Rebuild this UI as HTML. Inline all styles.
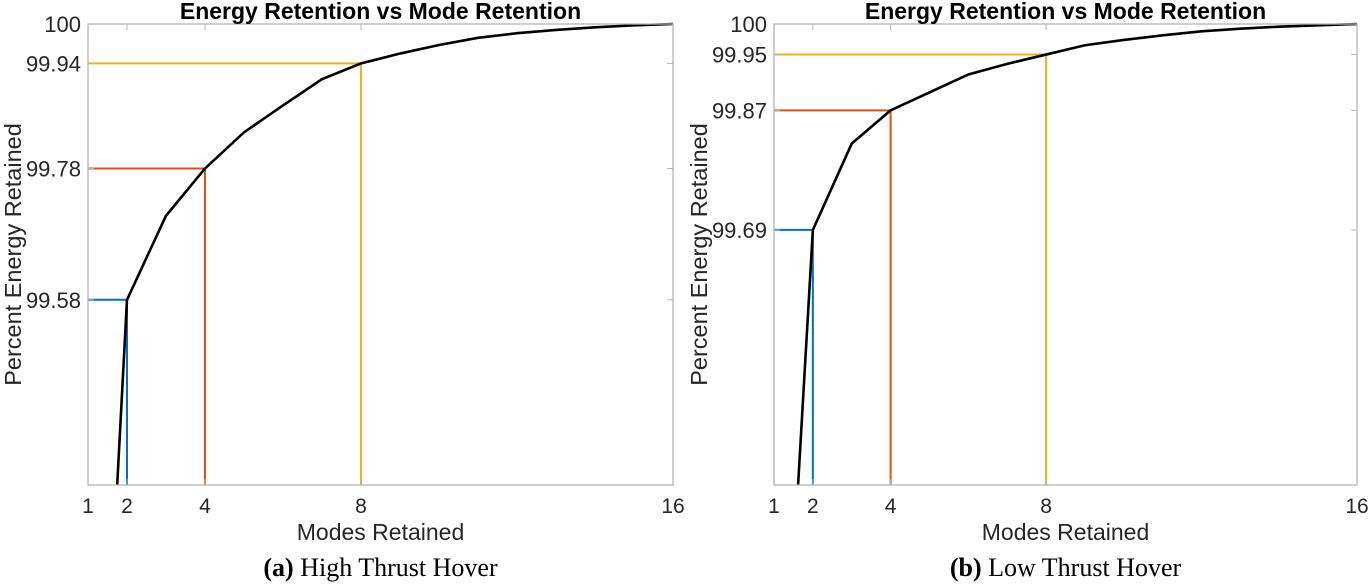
<!DOCTYPE html>
<html><head><meta charset="utf-8"><style>
html,body{margin:0;background:#fff;overflow:hidden;width:1372px;height:585px;}
svg{display:block;}
</style></head><body>
<svg id="c" width="1372" height="585" xmlns="http://www.w3.org/2000/svg"></svg>
<script>
const modes=[1,2,3,4,5,6,7,8,9,10,11,12,13,14,15,16];
const energyA=[98.46,99.58,99.708,99.78,99.835,99.876,99.916,99.94,99.955,99.968,99.979,99.986,99.991,99.995,99.998,100];
const energyB=[98.68,99.69,99.82,99.87,99.897,99.924,99.94,99.954,99.968,99.976,99.983,99.989,99.993,99.996,99.998,100];
const xTicks=[1,2,4,8,16];
const yTicksA=[99.58,99.78,99.94,100];
const yTicksB=[99.69,99.87,99.954,100];
const yTickLabelsA=["99.58","99.78","99.94","100"];
const yTickLabelsB=["99.69","99.87","99.95","100"];
const markA=[2,4,8];
const markB=[2,4,8];
const colors=["#0072BD","#D95319","#EDB120"];
const NS="http://www.w3.org/2000/svg";
const svg=document.getElementById('c');
function mk(t,a,p){const e=document.createElementNS(NS,t);for(const k in a)e.setAttribute(k,a[k]);(p||svg).appendChild(e);return e;}
function panel(id,x0,x1,y0,y1,ymin,energy,yt,ytl,marks,caption,capBold){
  const g=mk('g',{});
  
  
  const X=v=>x0+(v-1)/15*(x1-x0);
  const Y=v=>y1-(v-ymin)/(100-ymin)*(y1-y0);
  const cid='clip'+id;
  const cp=mk('clipPath',{id:cid},g);mk('rect',{x:x0,y:y0-2,width:x1-x0,height:y1-y0+2},cp);
  marks.forEach((m,i)=>{
    const v=energy[modes.indexOf(m)];
    const l=mk('polyline',{points:`${x0},${Y(v)} ${X(m)},${Y(v)} ${X(m)},${y1}`,fill:'none',stroke:colors[i],'stroke-width':2},g);
    
    
  });
  const pts=modes.map((m,i)=>X(m)+','+Y(energy[i])).join(' ');
  const line=mk('polyline',{points:pts,fill:'none',stroke:'#000','stroke-width':2.6,'clip-path':`url(#${cid})`},g);
  
  
  const box=mk('rect',{x:x0,y:y0,width:x1-x0,height:y1-y0,fill:'none',stroke:'#b4b4b4','stroke-width':1.3},g);
  
  
  xTicks.forEach(t=>{
    mk('line',{x1:X(t),x2:X(t),y1:y1,y2:y1-6,stroke:'#b4b4b4'},g);
    mk('line',{x1:X(t),x2:X(t),y1:y0,y2:y0+6,stroke:'#b4b4b4'},g);
    const tx=mk('text',{x:X(t),y:y1+28,'text-anchor':'middle','font-size':21,fill:'#262626','font-family':'Liberation Sans, sans-serif'},g);
    tx.textContent=t;
    
    
  });
  yt.forEach((t,i)=>{
    mk('line',{x1:x0,x2:x0+6,y1:Y(t),y2:Y(t),stroke:'#b4b4b4'},g);
    mk('line',{x1:x1,x2:x1-6,y1:Y(t),y2:Y(t),stroke:'#b4b4b4'},g);
    const tx=mk('text',{x:x0-7,y:Y(t)+8,'text-anchor':'end','font-size':22,fill:'#262626','font-family':'Liberation Sans, sans-serif'},g);
    tx.textContent=ytl[i];
    
    
  });
  const ti=mk('text',{x:(x0+x1)/2,y:y0-5,'text-anchor':'middle','font-size':23,'font-weight':'bold',fill:'#000','font-family':'Liberation Sans, sans-serif'},g);
  ti.textContent='Energy Retention vs Mode Retention';
  
  
  const xl=mk('text',{x:(x0+x1)/2,y:y1+55,'text-anchor':'middle','font-size':23,fill:'#262626','font-family':'Liberation Sans, sans-serif'},g);
  xl.textContent='Modes Retained';
  
  
  const yc=(y0+y1)/2;
  const yl=mk('text',{x:x0-67,y:yc,'text-anchor':'middle','font-size':23.5,fill:'#262626','font-family':'Liberation Sans, sans-serif',transform:`rotate(-90 ${x0-67} ${yc})`},g);
  yl.textContent='Percent Energy Retained';
  
  
  const cap=mk('text',{x:(x0+x1)/2,y:576,'text-anchor':'middle','font-size':26,fill:'#000','font-family':'Liberation Serif, serif'},g);
  
  
  const b=mk('tspan',{'font-weight':'bold'},cap);b.textContent=capBold;
  const r=mk('tspan',{},cap);r.textContent=caption;
}
panel('panel-a',88,673,24,485,99.298,energyA,yTicksA,yTickLabelsA,markA,' High Thrust Hover','(a)');
panel('panel-b',774,1357,24,485,99.306,energyB,yTicksB,yTickLabelsB,markB,' Low Thrust Hover','(b)');
</script>
</body></html>
